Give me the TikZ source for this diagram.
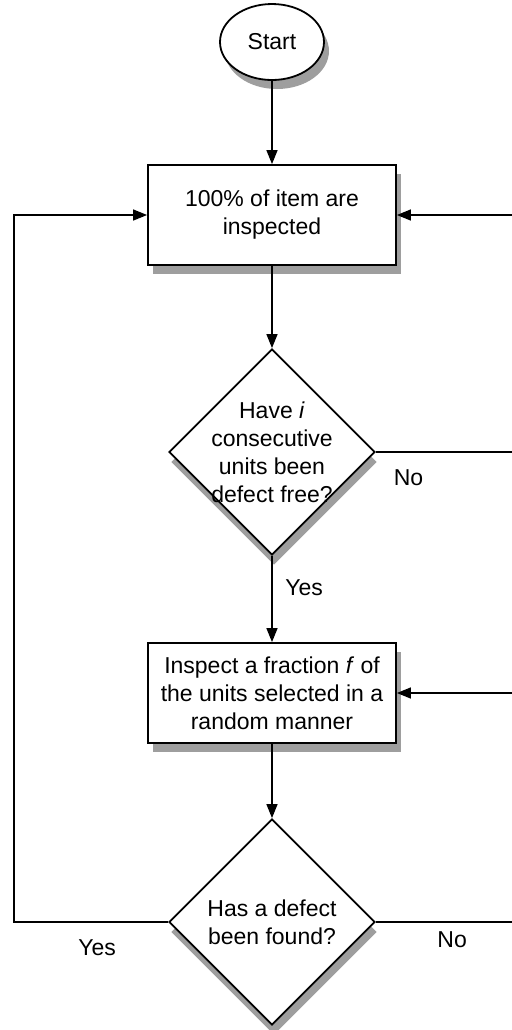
\documentclass[tikz,border=0pt]{standalone}
\usepackage{fontspec}
\setmainfont{Liberation Sans}
\usetikzlibrary{shapes.geometric,arrows.meta,shadows}

\begin{document}
\begin{tikzpicture}[
  x=1pt, y=1pt,
  font=\fontsize{11.5}{14}\selectfont,
  startnode/.style={ellipse, draw=black, line width=0.9pt, fill=white, minimum width=52pt, minimum height=38pt, inner sep=0pt,
    drop shadow={shadow xshift=2.5pt, shadow yshift=-4.5pt, fill=black!38, opacity=1}},
  procnode/.style={rectangle, draw=black, line width=0.9pt, fill=white, minimum width=124pt, minimum height=50pt, align=center,
    drop shadow={shadow xshift=2.5pt, shadow yshift=-4.5pt, fill=black!38, opacity=1}},
  decnode/.style={diamond, draw=black, line width=0.9pt, fill=white, minimum width=103pt, minimum height=103pt, inner sep=0pt,
    drop shadow={shadow xshift=1pt, shadow yshift=-5pt, fill=black!38, opacity=1}},
  dectext/.style={align=center, inner sep=0pt},
  line/.style={line width=0.7pt},
  arrow/.style={line, -{Triangle[length=7pt, width=5.5pt]}}
]
\useasboundingbox (-136,21) rectangle (120,-494);

% Main column
\node[startnode] (start) {Start};
\node[procnode, node distance=86.5pt, below of=start] (inspect_all) {100\% of item are\\inspected};
\node[decnode, node distance=118.5pt, below of=inspect_all] (check_run) {};
\node[dectext] (check_run_txt) at (check_run) {Have \textit{i}\\consecutive\\units been\\defect free?};
\node[procnode, node distance=120.5pt, below of=check_run] (inspect_frac) {Inspect a fraction \textit{f} of\\the units selected in a\\random manner};
\node[decnode, node distance=114.5pt, below of=inspect_frac] (check_defect) {};
\node[dectext] (check_defect_txt) at (check_defect) {Has a defect\\been found?};

% Edge points for the loops
\coordinate (redge) at (120,0);
\coordinate (ledge) at (-129,0);
\coordinate (no1_end) at (check_run.east -| redge);
\coordinate (no2_end) at (check_defect.east -| redge);
\coordinate (frac_in) at (inspect_frac.east -| redge);
\coordinate (all_in) at (inspect_all.east -| redge);
\coordinate (yes_corner) at (check_defect.west -| ledge);
\coordinate (yes_top) at (inspect_all.west -| ledge);

\draw[arrow] (start) -- (inspect_all);
\draw[arrow] (inspect_all) -- (check_run);
\draw[arrow] (check_run) -- (inspect_frac) node[pos=0.37, right=3pt] {Yes};
\draw[arrow] (inspect_frac) -- (check_defect);

% No branches, off to the right
\draw[line] (check_run.east) -- (no1_end) node[pos=0.24, below=5pt] {No};
\draw[arrow] (all_in) -- (inspect_all.east);
\draw[line] (check_defect.east) -- (no2_end) node[pos=0.56, below=1pt] {No};
\draw[arrow] (frac_in) -- (inspect_frac.east);

% Yes branch, back to the top
\draw[arrow] (check_defect.west) -- (yes_corner) node[pos=0.46, below=5pt] {Yes} -- (yes_top) -- (inspect_all.west);

\end{tikzpicture}
\end{document}
